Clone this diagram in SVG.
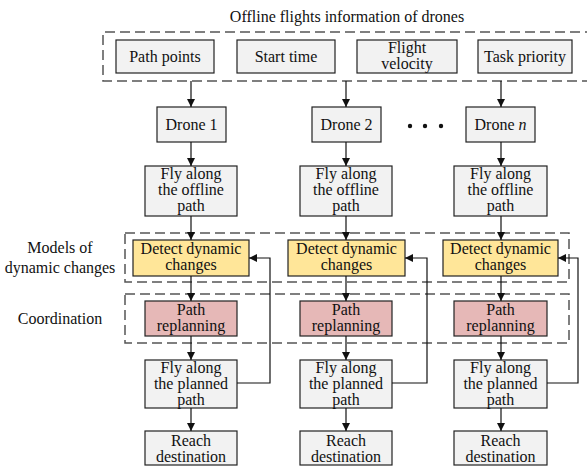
<svg xmlns="http://www.w3.org/2000/svg" width="587" height="466" viewBox="0 0 587 466" font-family="'Liberation Serif', 'Times New Roman', Times, 'DejaVu Serif', serif">
<defs>
<style>
text{font-family:'Liberation Serif','Times New Roman',Times,'DejaVu Serif',serif;font-size:16px;fill:#111;text-anchor:middle}
.g{fill:#f2f2f2;stroke:#222;stroke-width:1.2}
.y{fill:#ffe699;stroke:#222;stroke-width:1.2}
.p{fill:#e6b8b7;stroke:#222;stroke-width:1.2}
.d{fill:none;stroke:#555;stroke-width:1.5;stroke-dasharray:10 5}
.c{fill:none;stroke:#111;stroke-width:1.2}
</style>
<marker id="ah" markerWidth="8" markerHeight="8" refX="8" refY="4" orient="auto" markerUnits="userSpaceOnUse">
<path d="M0,0 L8,4 L0,8 Z" fill="#111"/>
</marker>
</defs>
<rect width="587" height="466" fill="#fff"/>

<g id="title"><text x="347" y="22" font-size="16.5">Offline flights information of drones</text></g>
<g id="groups">
<path class="d" d="M595,32 H103 V81 H595"/>
<rect class="d" x="125" y="233" width="444" height="49"/>
<rect class="d" x="125" y="294" width="444" height="49"/>
<text x="60" y="253">Models of</text>
<text x="60" y="273">dynamic changes</text>
<text x="60" y="324">Coordination</text>
</g>

<g id="path-points"><rect class="g" x="116" y="40" width="98" height="33"/><text x="165" y="62">Path points</text></g>
<g id="start-time"><rect class="g" x="237" y="40" width="98" height="33"/><text x="286" y="62">Start time</text></g>
<g id="flight-velocity"><rect class="g" x="357" y="40" width="100" height="33"/><text x="407" y="53">Flight</text><text x="407" y="69">velocity</text></g>
<g id="task-priority"><rect class="g" x="478" y="40" width="94" height="33"/><text x="525" y="62">Task priority</text></g>

<g id="drone1"><rect class="g" x="157" y="107" width="69" height="35"/><text x="191.5" y="130">Drone 1</text></g>
<g id="drone2"><rect class="g" x="312" y="107" width="69" height="35"/><text x="346.5" y="130">Drone 2</text></g>
<g id="dronen"><rect class="g" x="466" y="107" width="69" height="35"/><text x="500.5" y="130">Drone <tspan font-style="italic">n</tspan></text></g>
<g id="dots" fill="#111"><circle cx="410" cy="126" r="2.2"/><circle cx="425" cy="126" r="2.2"/><circle cx="441" cy="126" r="2.2"/></g>

<g id="offline1"><rect class="g" x="145" y="166" width="92" height="50"/><text x="191" y="179">Fly along</text><text x="191" y="195">the offline</text><text x="191" y="211">path</text></g>
<g id="offline2"><rect class="g" x="300" y="166" width="92" height="50"/><text x="346" y="179">Fly along</text><text x="346" y="195">the offline</text><text x="346" y="211">path</text></g>
<g id="offline3"><rect class="g" x="454" y="166" width="93" height="50"/><text x="500.5" y="179">Fly along</text><text x="500.5" y="195">the offline</text><text x="500.5" y="211">path</text></g>

<g id="detect1"><rect class="y" x="133" y="240" width="116" height="36"/><text x="191" y="254">Detect dynamic</text><text x="191" y="270">changes</text></g>
<g id="detect2"><rect class="y" x="288" y="240" width="117" height="36"/><text x="346.5" y="254">Detect dynamic</text><text x="346.5" y="270">changes</text></g>
<g id="detect3"><rect class="y" x="443" y="240" width="115" height="36"/><text x="500.5" y="254">Detect dynamic</text><text x="500.5" y="270">changes</text></g>

<g id="replan1"><rect class="p" x="145" y="301" width="92" height="35"/><text x="191" y="315">Path</text><text x="191" y="331">replanning</text></g>
<g id="replan2"><rect class="p" x="300" y="301" width="92" height="35"/><text x="346" y="315">Path</text><text x="346" y="331">replanning</text></g>
<g id="replan3"><rect class="p" x="454" y="301" width="93" height="35"/><text x="500.5" y="315">Path</text><text x="500.5" y="331">replanning</text></g>

<g id="planned1"><rect class="g" x="145" y="360" width="92" height="48"/><text x="191" y="373">Fly along</text><text x="191" y="389">the planned</text><text x="191" y="405">path</text></g>
<g id="planned2"><rect class="g" x="300" y="360" width="92" height="48"/><text x="346" y="373">Fly along</text><text x="346" y="389">the planned</text><text x="346" y="405">path</text></g>
<g id="planned3"><rect class="g" x="454" y="360" width="93" height="48"/><text x="500.5" y="373">Fly along</text><text x="500.5" y="389">the planned</text><text x="500.5" y="405">path</text></g>

<g id="reach1"><rect class="g" x="145" y="431" width="92" height="34"/><text x="191" y="446">Reach</text><text x="191" y="462">destination</text></g>
<g id="reach2"><rect class="g" x="300" y="431" width="92" height="34"/><text x="346" y="446">Reach</text><text x="346" y="462">destination</text></g>
<g id="reach3"><rect class="g" x="454" y="431" width="93" height="34"/><text x="500.5" y="446">Reach</text><text x="500.5" y="462">destination</text></g>

<g id="connectors" class="c" marker-end="url(#ah)">
<path d="M191,81 V107"/><path d="M346,81 V107"/><path d="M501,81 V107"/>
<path d="M191,142 V166"/><path d="M346,142 V166"/><path d="M501,142 V166"/>
<path d="M191,216 V240"/><path d="M346,216 V240"/><path d="M501,216 V240"/>
<path d="M191,276 V301"/><path d="M346,276 V301"/><path d="M501,276 V301"/>
<path d="M191,336 V360"/><path d="M346,336 V360"/><path d="M501,336 V360"/>
<path d="M191,408 V431"/><path d="M346,408 V431"/><path d="M501,408 V431"/>
<path d="M237,383 H270 V258 H249"/>
<path d="M392,383 H427 V258 H405"/>
<path d="M547,383 H578 V258 H558"/>
</g>
</svg>
